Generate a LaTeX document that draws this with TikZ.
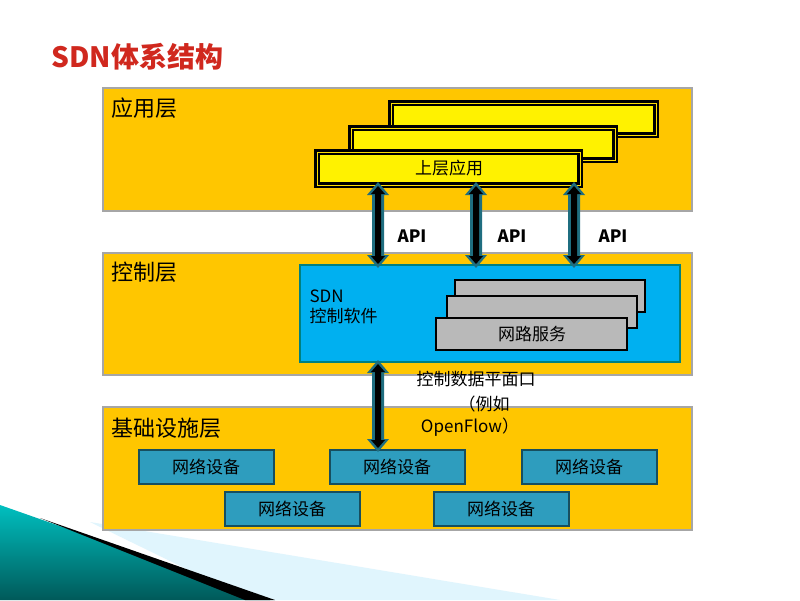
\documentclass[tikz,border=0pt]{standalone}
\usepackage{fontspec}
\setmainfont{Noto Sans CJK SC}
\definecolor{lay}{HTML}{FFC600}
\definecolor{blu}{HTML}{00B0F0}
\definecolor{dev}{HTML}{2E9DBE}
\definecolor{ttl}{HTML}{D0281E}
\definecolor{arr}{HTML}{1F6E80}
\tikzset{
 layer/.style={draw=gray!70,line width=1.5pt,fill=lay},
 ybox/.style={draw=black,line width=2.5pt,fill=yellow,double=yellow!80!orange,double distance=1pt},
 gbox/.style={draw=black,line width=2.5pt,fill=gray!55},
 dbox/.style={draw=dev!50!black,line width=1.5pt,fill=dev},
 lbl/.style={font=\fontsize{22}{24}\selectfont,anchor=west},
 txt/.style={font=\fontsize{17}{20}\selectfont},
 apil/.style={font=\fontsize{17}{20}\selectfont\bfseries},
}
\newcommand{\dblarrow}[3]{% x, ytop, ybottom
 \fill[arr] (#1,#2) -- (#1+11,#2+13) -- (#1+6,#2+13) -- (#1+6,#3-13) -- (#1+11,#3-13) -- (#1,#3) -- (#1-11,#3-13) -- (#1-6,#3-13) -- (#1-6,#2+13) -- (#1-11,#2+13) -- cycle;
 \fill[black] (#1,#2+4) -- (#1+7,#2+12) -- (#1+3,#2+12) -- (#1+3,#3-12) -- (#1+7,#3-12) -- (#1,#3-4) -- (#1-7,#3-12) -- (#1-3,#3-12) -- (#1-3,#2+12) -- (#1-7,#2+12) -- cycle;
}
\begin{document}
\begin{tikzpicture}[x=1pt,y=-1pt]
\useasboundingbox (0,0) rectangle (800,600);
\fill[white] (0,0) rectangle (800,600);
% swoosh
\fill[cyan!12] (90,522) -- (560,600) -- (250,600) -- cycle;
\shade[top color=cyan!50!teal,bottom color=teal!70!black] (0,505) -- (270,600) -- (0,600) -- cycle;
\fill[black] (40,518) -- (275,600) -- (245,600) -- cycle;
\node[anchor=west,text=ttl,font=\fontsize{28}{30}\selectfont\bfseries] (title) at (48,57) {SDN体系结构};
% layers
\draw[layer] (103,88) rectangle (692,211);
\draw[layer] (103,253) rectangle (692,375);
\draw[layer] (103,407) rectangle (692,530);
\node[lbl] (la) at (108,108) {应用层};
\node[lbl] (lc) at (108,272) {控制层};
\node[lbl] (li) at (108,428) {基础设施层};
% app boxes
\draw[ybox] (391,103) rectangle (656,135);
\draw[ybox] (351,128) rectangle (615,160);
\draw[ybox] (317,152) rectangle (580,185);
\node[txt] (app) at (449,168) {上层应用};
% controller
\draw[draw=teal,line width=1.5pt,fill=blu] (300,265) rectangle (680,362);
\node[txt,anchor=north west,align=left] (sdn) at (306,286) {SDN\\控制软件};
\draw[gbox] (455,280) rectangle (645,312);
\draw[gbox] (447,296) rectangle (637,328);
\draw[gbox] (436,318) rectangle (627,350);
\node[txt] (svc) at (532,334) {网路服务};
% devices
\foreach \n/\x/\y in {d1/139/450,d2/330/450,d3/522/450,d4/225/492,d5/434/492}{
 \draw[dbox] (\x,\y) rectangle ++(135,34);
 \node[txt] (\n) at (\x+67,\y+17) {网络设备};
}
% arrows
\dblarrow{378}{182}{268}\dblarrow{476}{182}{268}\dblarrow{574}{182}{268}\dblarrow{378}{360}{452}
\node[apil] (a1) at (412,236) {API};
\node[apil] (a2) at (512,236) {API};
\node[apil] (a3) at (613,236) {API};
\node[txt] (c1) at (476,379) {控制数据平面口};
\node[txt] (c2) at (484,404) {（例如};
\node[txt] (c3) at (470,427) {OpenFlow）};
\end{tikzpicture}
\end{document}
